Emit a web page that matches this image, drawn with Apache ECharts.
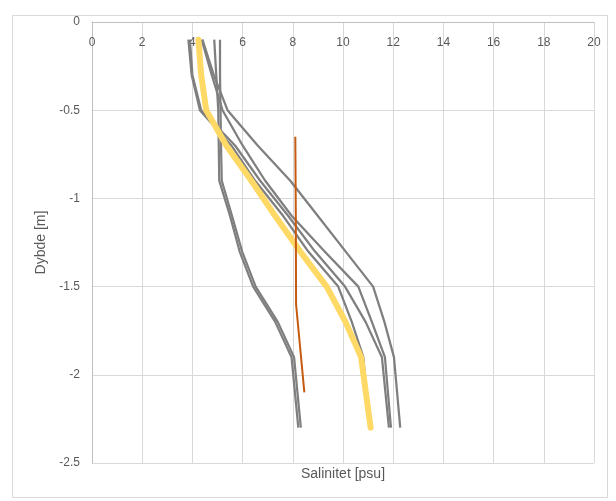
<!DOCTYPE html>
<html lang="da">
<head>
	<meta charset="UTF-8">
	<title>Salinitet</title>
	<style>
		*{
			margin: 0;
			padding: 0;
		}
		body{
			background: #fff;
		}
		.box{
			width: 616px;
			height: 501px;
		}
	</style>
	<script src="https://cdn.jsdelivr.net/npm/echarts@6/dist/echarts.min.js"></script>
</head>
<body>
	<div class="box"></div>
	<script>
		// depth of the measuring points [m]
		var depths = [-0.1, -0.3, -0.5, -0.7, -0.9, -1.1, -1.3, -1.5, -1.7, -1.9, -2.3];
		// salinity profiles [psu], one per station (gray)
		var grayE = [3.84, 3.97, 4.3, 5.55, 6.5, 7.62, 8.61, 9.81, 10.35, 10.81, 11.05];
		var grayF = [3.9, 4.0, 4.35, 5.7, 6.7, 7.82, 8.88, 10.08, 10.9, 11.55, 11.83];
		var grayG = [4.37, 4.77, 5.2, 6.0, 6.9, 7.96, 9.26, 10.61, 11.15, 11.67, 11.91];
		var grayH = [4.4, 4.85, 5.4, 6.6, 7.9, 9.0, 10.1, 11.2, 11.65, 12.03, 12.28];
		var grayC = [4.87, 4.95, 5.03, 5.05, 5.07, 5.5, 5.88, 6.42, 7.3, 7.95, 8.22];
		var grayD = [5.1, 5.1, 5.12, 5.14, 5.17, 5.58, 5.98, 6.52, 7.4, 8.05, 8.32];
		// highlighted profile
		var yellow = [4.24, 4.35, 4.55, 5.35, 6.35, 7.3, 8.29, 9.35, 10.1, 10.72, 11.1];
		// brown profile has its own depths
		var brownDepths = [-0.65, -1.1, -1.6, -2.1];
		var brown = [8.1, 8.12, 8.13, 8.46];

		var xTicks = {min: 0, max: 20, interval: 2};
		var yTicks = {min: -2.5, max: 0, interval: 0.5};

		function pairs(xs, ys) {
			return xs.map((v, i) => [v, ys[i]]);
		}

		function grayLine(values) {
			return {
				type: 'line',
				data: pairs(values, depths),
				symbol: 'none',
				silent: true,
				lineStyle: {color: '#7f7f7f', width: 2.25, join: 'round'},
				z: 2
			};
		}

		var chart = echarts.init(document.querySelector('.box'));
		var labelFont = 'Liberation Sans, Arial, sans-serif';
		var option = {
			animation: false,
			grid: {left: 92, top: 22, right: 22, bottom: 38},
			xAxis: {
				type: 'value',
				position: 'top',
				min: xTicks.min,
				max: xTicks.max,
				interval: xTicks.interval,
				axisLine: {show: true, lineStyle: {color: '#bfbfbf'}},
				axisTick: {show: false},
				axisLabel: {inside: true, margin: 15, color: '#595959', fontSize: 12, fontFamily: labelFont},
				splitLine: {lineStyle: {color: '#d9d9d9', width: 1}}
			},
			yAxis: {
				type: 'value',
				min: yTicks.min,
				max: yTicks.max,
				interval: yTicks.interval,
				name: 'Dybde [m]',
				nameLocation: 'middle',
				nameGap: 42,
				nameRotate: 90,
				nameTextStyle: {color: '#595959', fontSize: 14, fontFamily: labelFont},
				axisLine: {show: true, lineStyle: {color: '#bfbfbf'}},
				axisTick: {show: false},
				axisLabel: {margin: 12, color: '#595959', fontSize: 12, fontFamily: labelFont},
				splitLine: {lineStyle: {color: '#d9d9d9', width: 1}}
			},
			graphic: [
				{
					type: 'rect',
					shape: {x: 12.5, y: 15.5, width: 595, height: 482},
					style: {fill: 'none', stroke: '#d9d9d9', lineWidth: 1},
					z: -10
				},
				{
					type: 'text',
					x: 343,
					y: 467,
					style: {text: 'Salinitet [psu]', fill: '#595959', font: '14px Liberation Sans, Arial, sans-serif', textAlign: 'center', textVerticalAlign: 'top'}
				}
			],
			series: [
				grayLine(grayC),
				grayLine(grayD),
				grayLine(grayE),
				grayLine(grayF),
				grayLine(grayG),
				grayLine(grayH),
				{
					type: 'line',
					data: pairs(yellow, depths),
					symbol: 'none',
					silent: true,
					lineStyle: {color: '#ffd966', width: 6, join: 'round', cap: 'round'},
					z: 3
				},
				{
					type: 'line',
					data: pairs(brown, brownDepths),
					symbol: 'none',
					silent: true,
					lineStyle: {color: '#c55a11', width: 2},
					z: 4
				}
			]
		};
		chart.setOption(option);
	</script>
</body>
</html>
